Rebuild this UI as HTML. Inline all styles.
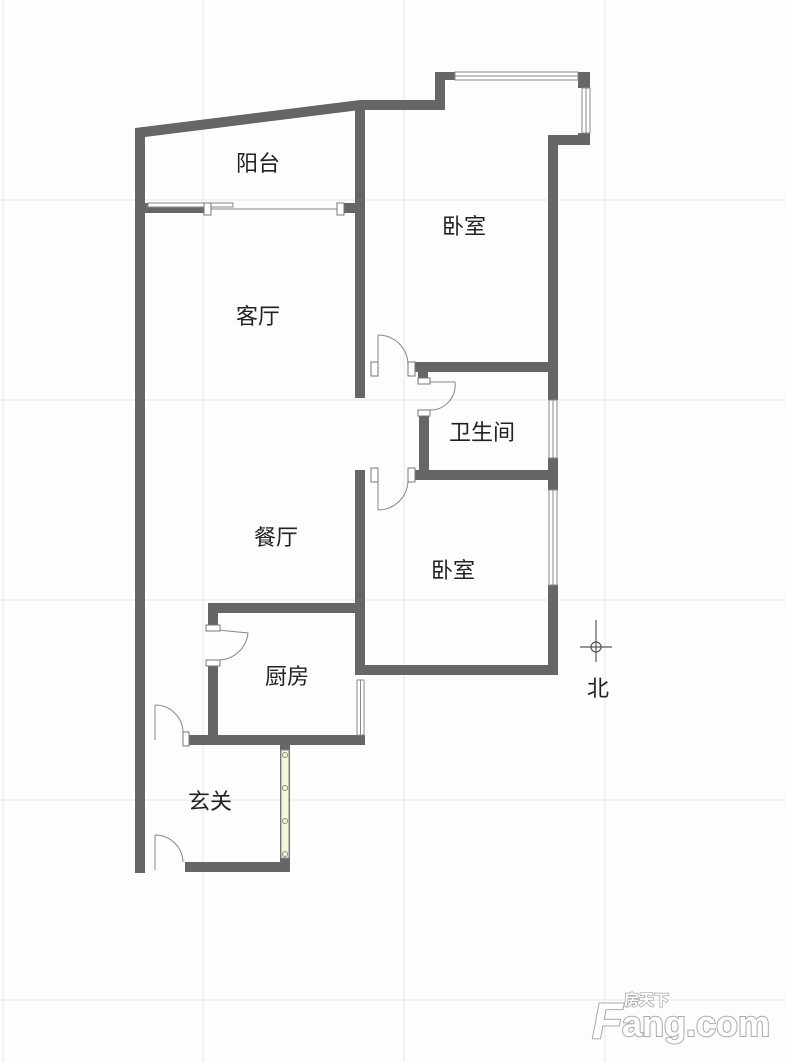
<!DOCTYPE html>
<html><head><meta charset="utf-8"><style>
html,body{margin:0;padding:0;background:#fff;}
svg{display:block;}
text{font-family:"Liberation Sans","Noto Sans CJK SC",sans-serif;fill:#222;}
</style></head><body>
<svg width="786" height="1062" viewBox="0 0 786 1062" xmlns="http://www.w3.org/2000/svg">
<rect width="786" height="1062" fill="#fdfdfd"/>
<g stroke="#ececec" stroke-width="1.2">
<line x1="3" y1="0" x2="3" y2="1062"/><line x1="203" y1="0" x2="203" y2="1062"/><line x1="404" y1="0" x2="404" y2="1062"/><line x1="605" y1="0" x2="605" y2="1062"/>
<line x1="0" y1="200" x2="786" y2="200"/><line x1="0" y1="400" x2="786" y2="400"/><line x1="0" y1="600" x2="786" y2="600"/><line x1="0" y1="800" x2="786" y2="800"/><line x1="0" y1="1000" x2="786" y2="1000"/>
</g>
<g fill="#666">
<rect x="135" y="128" width="10" height="745"/>
<polygon points="135,128 360,100 445,100 445,110 360,110 145,137 135,137"/>
<rect x="435" y="72" width="10" height="38"/>
<rect x="435" y="72" width="20" height="8"/>
<rect x="578" y="72" width="12" height="16"/>
<rect x="578" y="133" width="12" height="12"/>
<rect x="550" y="135" width="40" height="10"/>
<rect x="548" y="135" width="10" height="265"/>
<rect x="548" y="458" width="10" height="32"/>
<rect x="548" y="585" width="10" height="90"/>
<rect x="145" y="203" width="65" height="10"/>
<rect x="340" y="203" width="20" height="10"/>
<rect x="355" y="110" width="10" height="288"/>
<rect x="410" y="362" width="140" height="10"/>
<rect x="418" y="372" width="10" height="8"/>
<rect x="419" y="415" width="10" height="65"/>
<rect x="410" y="470" width="140" height="10"/>
<rect x="355" y="470" width="10" height="205"/>
<rect x="355" y="665" width="203" height="10"/>
<rect x="208" y="603" width="152" height="10"/>
<rect x="208" y="603" width="10" height="22"/>
<rect x="208" y="665" width="10" height="80"/>
<rect x="355" y="735" width="10" height="10"/>
<rect x="185" y="735" width="180" height="10"/>
<rect x="280" y="745" width="10" height="127"/>
<rect x="185" y="862" width="105" height="10"/>
</g>
<g fill="#fff" stroke="#888" stroke-width="1">
<rect x="455" y="72" width="123" height="8"/>
<line x1="455" y1="76" x2="578" y2="76"/>
<rect x="582" y="88" width="8" height="45"/>
<line x1="586" y1="88" x2="586" y2="133"/>
<rect x="549" y="400" width="8" height="58"/>
<line x1="553" y1="400" x2="553" y2="458"/>
<rect x="549" y="490" width="8" height="95"/>
<line x1="553" y1="490" x2="553" y2="585"/>
<rect x="357" y="680" width="7" height="55"/>
<line x1="360.5" y1="680" x2="360.5" y2="735"/>
<rect x="148" y="203" width="85" height="4"/>
<line x1="210" y1="209" x2="340" y2="209"/>
<rect x="281" y="750" width="8" height="108" fill="#f6f6d8"/>
</g>
<g fill="none" stroke="#888" stroke-width="1">
<circle cx="285" cy="755" r="2.5"/><circle cx="285" cy="788" r="2.5"/><circle cx="285" cy="821" r="2.5"/><circle cx="285" cy="854" r="2.5"/>
<path d="M378 335 L378 375 M378 335 A30 30 0 0 1 408 365"/>
<path d="M430 382 L455 382 A25 25 0 0 1 430 410"/>
<path d="M378 510 L378 475 M378 510 A30 30 0 0 0 408 480"/>
<path d="M218 630 L248 633 A30 30 0 0 1 218 660"/>
<path d="M155 705 A28 28 0 0 1 183 735 M155 705 L155 740"/>
<path d="M155 835 A28 28 0 0 1 183 862 M155 835 L155 870"/>
</g>
<g fill="#fff" stroke="#777" stroke-width="1">
<rect x="371" y="362" width="7" height="14"/><rect x="408" y="362" width="7" height="14"/>
<rect x="418" y="378" width="12" height="6"/><rect x="418" y="410" width="12" height="6"/>
<rect x="371" y="468" width="7" height="14"/><rect x="408" y="468" width="7" height="14"/>
<rect x="206" y="625" width="14" height="6"/><rect x="206" y="660" width="14" height="6"/>
<rect x="183" y="732" width="6" height="14"/>
<rect x="204" y="203" width="7" height="12"/><rect x="337" y="203" width="7" height="12"/>
</g>
<g stroke="#555" stroke-width="1.2" fill="none">
<line x1="596" y1="620" x2="596" y2="662"/>
<line x1="580" y1="647" x2="612" y2="647"/>
<circle cx="596" cy="647" r="5"/>
</g>
<g font-size="22">
<text x="236" y="171">阳台</text>
<text x="442" y="234">卧室</text>
<text x="236" y="324">客厅</text>
<text x="449" y="440">卫生间</text>
<text x="254" y="545">餐厅</text>
<text x="431" y="578">卧室</text>
<text x="265" y="684">厨房</text>
<text x="188" y="809">玄关</text>
<text x="587" y="696">北</text>
</g>
<g font-weight="bold" stroke="#aaa" stroke-width="2" paint-order="stroke">
<text x="592" y="1038" font-size="50" style="fill:#fff" font-style="italic">F</text>
<text x="622" y="1036" font-size="36" style="fill:#fff">ang.com</text>
<text x="624" y="1005" font-size="15" style="fill:#fff" stroke-width="1.5">房天下</text>
</g>
</svg>
</body></html>
